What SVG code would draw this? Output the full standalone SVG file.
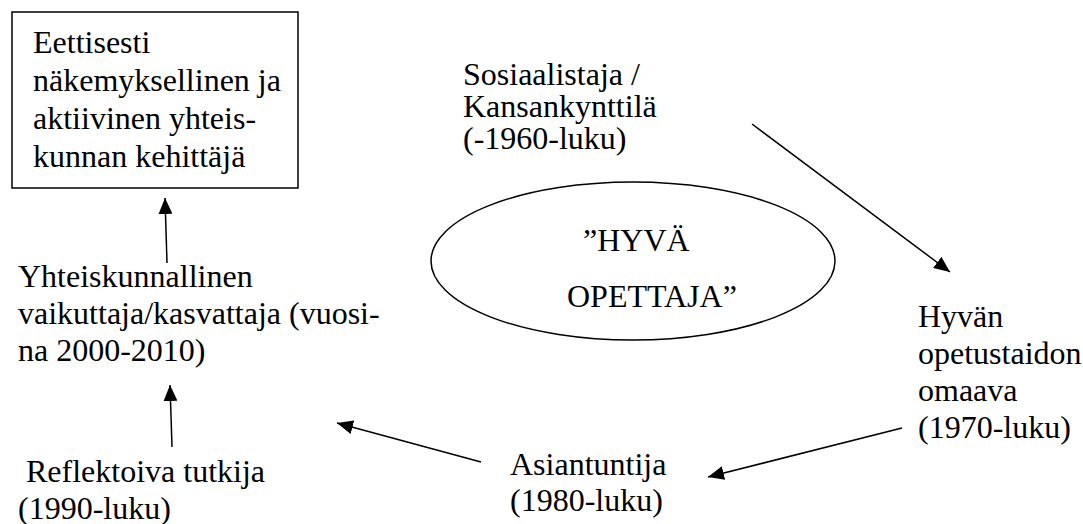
<svg xmlns="http://www.w3.org/2000/svg" width="1083" height="524" viewBox="0 0 1083 524">
<style>
text{font-family:"Liberation Serif","Times New Roman","DejaVu Serif",serif;font-size:32px;fill:#000}
.ln{stroke:#000;stroke-width:1.5;fill:none}
</style>
<defs>
<marker id="ah" markerUnits="userSpaceOnUse" markerWidth="18" markerHeight="14" refX="16" refY="7" orient="auto">
<path d="M0,0 L16,7 L0,14 Z" fill="#000"/>
</marker>
</defs>
<rect width="1083" height="524" fill="#fff"/>
<g id="node-box">
<rect x="12" y="12" width="286" height="176" fill="#fff" stroke="#000" stroke-width="1.5"/>
<text x="33" y="53" font-family="Liberation Serif, serif">Eettisesti</text>
<text x="33" y="91" font-family="Liberation Serif, serif">näkemyksellinen ja</text>
<text x="33" y="129" font-family="Liberation Serif, serif">aktiivinen yhteis-</text>
<text x="33" y="167" font-family="Liberation Serif, serif">kunnan kehittäjä</text>
</g>
<g id="node-center">
<ellipse cx="633" cy="261" rx="202" ry="79" class="ln"/>
<text x="583" y="251" font-family="Liberation Serif, serif">”HYVÄ</text>
<text x="567" y="307" font-family="Liberation Serif, serif">OPETTAJA”</text>
</g>
<g id="node-sosiaalistaja">
<text x="463" y="85" font-family="Liberation Serif, serif">Sosiaalistaja /</text>
<text x="463" y="117" font-family="Liberation Serif, serif">Kansankynttilä</text>
<text x="463" y="149" font-family="Liberation Serif, serif">(-1960-luku)</text>
</g>
<g id="node-hyvan">
<text x="918" y="327" font-family="Liberation Serif, serif">Hyvän</text>
<text x="918" y="364" font-family="Liberation Serif, serif">opetustaidon</text>
<text x="918" y="401" font-family="Liberation Serif, serif">omaava</text>
<text x="918" y="438" font-family="Liberation Serif, serif">(1970-luku)</text>
</g>
<g id="node-asiantuntija">
<text x="510" y="475" font-family="Liberation Serif, serif">Asiantuntija</text>
<text x="510" y="511" font-family="Liberation Serif, serif">(1980-luku)</text>
</g>
<g id="node-reflektoiva">
<text x="26" y="482" font-family="Liberation Serif, serif">Reflektoiva tutkija</text>
<text x="18" y="519" font-family="Liberation Serif, serif">(1990-luku)</text>
</g>
<g id="node-yhteiskunnallinen">
<text x="18" y="287" font-family="Liberation Serif, serif">Yhteiskunnallinen</text>
<text x="18" y="324" font-family="Liberation Serif, serif">vaikuttaja/kasvattaja (vuosi-</text>
<text x="18" y="361" font-family="Liberation Serif, serif">na 2000-2010)</text>
</g>
<g id="connectors">
<line x1="752" y1="124" x2="950" y2="272" class="ln" marker-end="url(#ah)"/>
<line x1="902" y1="428" x2="708" y2="477" class="ln" marker-end="url(#ah)"/>
<line x1="481" y1="462" x2="337" y2="423" class="ln" marker-end="url(#ah)"/>
<line x1="172" y1="447" x2="170" y2="385" class="ln" marker-end="url(#ah)"/>
<line x1="167" y1="263" x2="165" y2="198" class="ln" marker-end="url(#ah)"/>
</g>
</svg>
